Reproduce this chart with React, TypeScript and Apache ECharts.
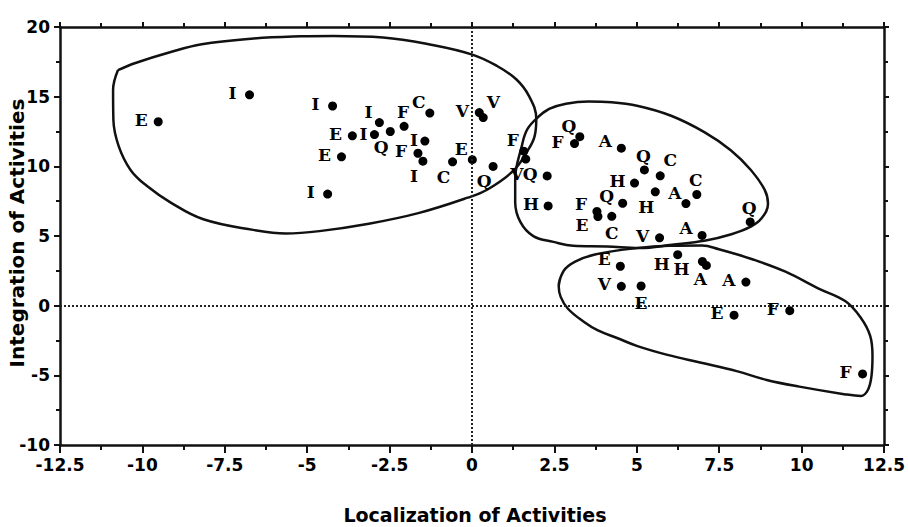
import { useEffect, useRef } from 'react';
import * as echarts from 'echarts';

// Group letter of each plotted activity
const LETTERS = [
  'E', 'I', 'I', 'I', 'F', 'C', 'E', 'I', 'Q', 'I', 'E', 'F', 'I', 'C', 'E', 'I', 'V', 'V', 'Q', 'F', 'V',
  'Q', 'H', 'Q', 'F', 'A', 'Q', 'C', 'H', 'H', 'Q', 'F', 'E', 'C', 'C', 'A', 'Q', 'V', 'A',
  'H', 'E', 'H', 'A', 'A', 'V', 'E', 'E', 'F', 'F',
];
// Localization of Activities
const X_VALUES = [
  -9.52, -6.75, -4.23, -2.81, -2.06, -1.28, -3.63, -2.96, -2.48, -1.43, -3.96, -1.64, -1.49, -0.59, 0.01, -4.38, 0.22, 0.34, 0.64, 1.57, 1.63,
  2.28, 2.31, 3.27, 3.11, 4.53, 5.23, 5.71, 4.93, 5.56, 4.57, 3.79, 3.82, 4.24, 6.82, 6.49, 8.44, 5.69, 6.98,
  6.24, 4.5, 6.99, 7.11, 8.31, 4.53, 5.13, 7.95, 9.64, 11.85,
];
// Integration of Activities
const Y_VALUES = [
  13.2, 15.13, 14.33, 13.14, 12.87, 13.82, 12.19, 12.28, 12.5, 11.81, 10.68, 10.94, 10.37, 10.32, 10.48, 8.01, 13.86, 13.5, 9.99, 11.09, 10.52,
  9.31, 7.16, 12.13, 11.63, 11.3, 9.74, 9.32, 8.8, 8.17, 7.35, 6.76, 6.4, 6.41, 7.98, 7.33, 6.01, 4.87, 5.04,
  3.66, 2.83, 3.17, 2.89, 1.69, 1.39, 1.41, -0.68, -0.36, -4.9,
];
// Which side of its dot each letter is written on
const LABEL_SIDE = [
  'left', 'left', 'left', 'tl', 'top', 'tl', 'left', 'leftNear', 'bl', 'leftNear', 'left', 'left', 'bl', 'bl', 'tl', 'left', 'left', 'tr', 'bl', 'tl', 'bl',
  'left', 'left', 'tl', 'left', 'lu', 'top', 'tr', 'left', 'bl', 'lu', 'lu', 'ld', 'bottom', 'top', 'tl', 'top', 'left', 'lu',
  'ld', 'lu', 'ldw', 'bln', 'left', 'left', 'bottom', 'left', 'left', 'left',
];

// Hand-drawn cluster outlines, in data units
const OUTLINE_LEFT = [
  [-10.74, 16.91], [-10.21, 17.42], [-9.19, 18.17], [-8.2, 18.76], [-6.7, 19.16], [-5.19, 19.33], [-4.2, 19.36],
  [-2.7, 19.25], [-1.2, 18.71], [0.01, 18.02], [0.73, 17.24], [1.34, 16.25], [1.73, 15.04], [1.95, 13.4],
  [1.9, 12.17], [1.66, 11.02], [1.24, 9.65], [0.47, 8.34], [-0.13, 7.75], [-1.63, 6.64], [-3.13, 5.88],
  [-4.63, 5.35], [-5.65, 5.18], [-6.64, 5.44], [-8.15, 6.2], [-9.14, 7.4], [-9.87, 8.6], [-10.36, 9.74],
  [-10.72, 11.45], [-10.88, 13.32], [-10.89, 15.47],
];
const OUTLINE_MIDDLE = [
  [2.04, 13.61], [2.34, 14.12], [2.85, 14.49], [3.54, 14.65], [4.23, 14.6], [5.04, 14.33], [6.04, 13.63],
  [7.06, 12.44], [7.85, 11.16], [8.46, 9.74], [8.88, 8.31], [8.98, 7.31], [8.77, 6.23], [8.44, 5.65],
  [7.87, 5.13], [7.09, 4.68], [6.07, 4.37], [5.08, 4.13], [4.09, 4.25], [3.07, 4.3], [2.47, 4.58],
  [1.86, 4.99], [1.47, 5.99], [1.31, 7.42], [1.31, 9.07], [1.51, 11.45], [1.68, 12.67],
];
const OUTLINE_LOWER = [
  [2.63, 1.42], [2.78, 2.5], [3.13, 3.16], [3.73, 3.67], [4.99, 4.13], [5.98, 4.3], [6.98, 4.32], [7.49, 4.05],
  [8.48, 3.35], [9.51, 2.44], [10.5, 1.24], [11.32, 0.33], [11.8, -0.88], [12.08, -2.17], [12.15, -3.6],
  [12.12, -5.04], [12.01, -6.05], [11.8, -6.48], [11.29, -6.35], [9.93, -5.81], [8.94, -5.33], [8.03, -4.7],
  [6.92, -4.08], [5.93, -3.53], [5.02, -2.9], [4.42, -2.34], [3.82, -1.78], [3.39, -1.15], [2.91, -0.22],
  [2.69, 0.63],
];

const X_RANGE = [-12.5, 12.5];
const X_STEP = 2.5;
const Y_RANGE = [-10, 20];
const Y_STEP = 5;
const X_TITLE = 'Localization of Activities';
const Y_TITLE = 'Integration of Activities';

const OFFSETS: Record<string, number[]> = {
  left: [-17, -2],
  leftNear: [-11, -1],
  lu: [-16, -7],
  ld: [-16, 9],
  ldw: [-21, 8],
  tl: [-11, -11],
  top: [-1, -14],
  tr: [10, -16],
  bl: [-9, 15],
  bln: [-6, 14],
  bottom: [0, 17],
};

export default function App() {
  const ref = useRef<HTMLDivElement>(null);

  useEffect(() => {
    if (!ref.current) return;
    const chart = echarts.init(ref.current, null, { renderer: 'svg' });
    const ink = '#111';
    const tickFont = {
      fontFamily: 'DejaVu Sans',
      fontWeight: 'bold' as const,
      fontSize: 17,
      color: '#000',
    };
    const axisLine = { show: true, onZero: false, lineStyle: { color: ink, width: 2.5 } };

    const points = LETTERS.map((name, i) => ({
      name,
      value: [X_VALUES[i], Y_VALUES[i]],
      label: { offset: OFFSETS[LABEL_SIDE[i]] },
    }));

    const outline = (pts: number[][], wrap: boolean) => ({
      type: 'line',
      data: wrap ? [...pts, pts[0], pts[1]] : [...pts, pts[0]],
      smooth: 0.4,
      symbol: 'none',
      showSymbol: false,
      silent: true,
      lineStyle: { color: ink, width: 2.5 },
      z: 2,
    });

    const makeX = (pos: 'bottom' | 'top') => ({
      type: 'value',
      position: pos,
      min: X_RANGE[0],
      max: X_RANGE[1],
      interval: X_STEP,
      axisLine,
      axisTick: { show: true, length: pos === 'bottom' ? 8 : 5, lineStyle: { color: ink, width: 2 } },
      minorTick: { show: true, splitNumber: 2, length: pos === 'bottom' ? 5 : 4, lineStyle: { color: ink, width: 2 } },
      splitLine: { show: false },
      minorSplitLine: { show: false },
      axisLabel: pos === 'bottom' ? { ...tickFont, margin: 11 } : { show: false },
    });
    const makeY = (pos: 'left' | 'right') => ({
      type: 'value',
      position: pos,
      min: Y_RANGE[0],
      max: Y_RANGE[1],
      interval: Y_STEP,
      axisLine,
      axisTick: { show: true, length: pos === 'left' ? 6 : 5, lineStyle: { color: ink, width: 2 } },
      minorTick: { show: true, splitNumber: 2, length: 4, lineStyle: { color: ink, width: 2 } },
      splitLine: { show: false },
      minorSplitLine: { show: false },
      axisLabel: pos === 'left' ? { ...tickFont, margin: 10 } : { show: false },
    });

    chart.setOption({
      animation: false,
      backgroundColor: '#fff',
      grid: { left: 60, top: 27, width: 829, height: 418, containLabel: false },
      xAxis: [makeX('bottom'), makeX('top')],
      yAxis: [makeY('left'), makeY('right')],
      series: [
        outline(OUTLINE_LEFT, false),
        outline(OUTLINE_MIDDLE, true),
        outline(OUTLINE_LOWER, true),
        {
          type: 'scatter',
          data: points,
          symbol: 'circle',
          symbolSize: 9,
          itemStyle: { color: '#000', opacity: 1 },
          z: 3,
          label: {
            show: true,
            position: 'inside',
            formatter: '{b}',
            fontFamily: 'DejaVu Serif',
            fontWeight: 'bold',
            fontSize: 17,
            color: '#000',
            textBorderWidth: 0,
            textBorderColor: 'transparent',
            lineHeight: 17,
          },
          markLine: {
            silent: true,
            symbol: ['none', 'none'],
            label: { show: false },
            lineStyle: { color: '#222', width: 2, type: [2, 2] },
            data: [{ xAxis: 0 }, { yAxis: 0 }],
          },
        },
      ],
      graphic: [
        {
          type: 'text',
          x: 475,
          y: 515,
          style: {
            text: X_TITLE,
            fontFamily: 'DejaVu Sans',
            fontWeight: 'bold',
            fontSize: 19,
            fill: '#000',
            align: 'center',
            verticalAlign: 'middle',
          },
        },
        {
          type: 'text',
          x: 17,
          y: 233,
          rotation: Math.PI / 2,
          style: {
            text: Y_TITLE,
            fontFamily: 'DejaVu Sans',
            fontWeight: 'bold',
            fontSize: 20,
            fill: '#000',
            align: 'center',
            verticalAlign: 'middle',
          },
        },
      ],
    });
    return () => chart.dispose();
  }, []);

  return (
    <div
      ref={ref}
      style={{ position: 'absolute', left: 0, top: 0, width: 908, height: 527, background: '#fff' }}
    />
  );
}
